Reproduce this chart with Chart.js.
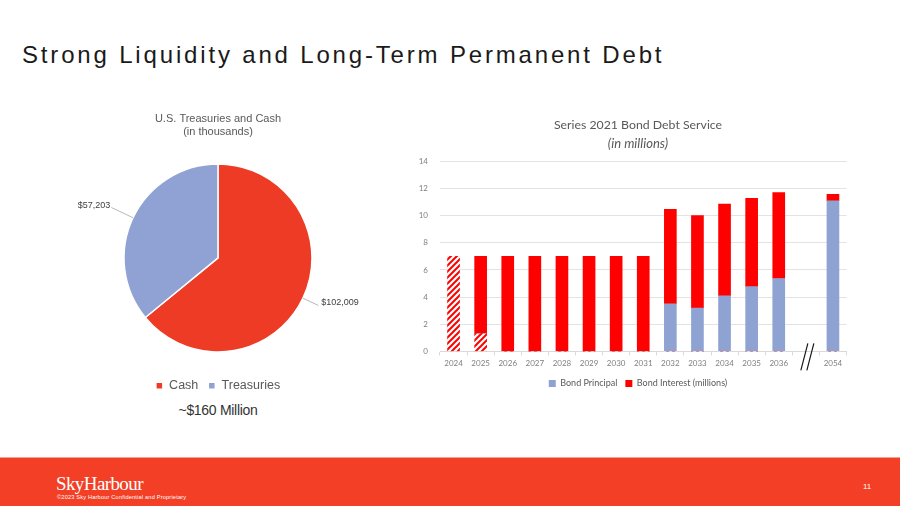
<!DOCTYPE html>
<html>
<head>
<meta charset="utf-8">
<script src="https://cdn.jsdelivr.net/npm/chart.js@4.4.1/dist/chart.umd.min.js"></script>
<style>
  html, body { margin:0; padding:0; background:#fff; }
  body { width:900px; height:506px; position:relative; overflow:hidden; font-family:"Liberation Sans", Arial, sans-serif; }
  #title { position:absolute; left:22px; top:41px; font-size:24px; letter-spacing:2.83px; color:#1a1a1a; white-space:nowrap; }
  #pieWrap { position:absolute; left:60px; top:100px; width:316px; height:302px; }
  #barWrap { position:absolute; left:405px; top:110px; width:466px; height:288px; }
  #total { position:absolute; left:60px; width:316px; top:402px; text-align:center; font-size:14px; color:#333; letter-spacing:-0.3px; }
  #footer { position:absolute; left:0; top:457px; width:900px; height:49px; background:#F33F26; border-top:1px solid #f8a08c; }
  #logo { position:absolute; left:56px; top:15px; font-family:"Liberation Serif", "DejaVu Serif", serif; font-size:19px; color:#fff; letter-spacing:-0.6px; }
  #copy { position:absolute; left:57px; top:36px; font-size:5.6px; color:#fff; white-space:nowrap; letter-spacing:0.2px; }
  #pg { position:absolute; left:863px; top:24px; font-size:8px; color:#fff; }
</style>
</head>
<body>
<div id="title">Strong Liquidity and Long-Term Permanent Debt</div>
<div id="pieWrap"><canvas id="pie"></canvas></div>
<div id="total">~$160 Million</div>
<div id="barWrap"><canvas id="bar"></canvas></div>
<div id="footer">
  <div id="logo">SkyHarbour</div>
  <div id="copy">©2023 Sky Harbour Confidential and Proprietary</div>
  <div id="pg">11</div>
</div>
<script>
// ---- Pie data ----
const pieLabels = ['Cash', 'Treasuries'];
const pieValues = [102009, 57203];
const pieColors = ['#EE3B25', '#8FA2D3'];

// ---- Bar data ----
const years = ['2024','2025','2026','2027','2028','2029','2030','2031','2032','2033','2034','2035','2036','','2054'];
const capitalizedInterest = [7.0, 1.3, 0, 0, 0, 0, 0, 0, 0, 0, 0, 0, 0, null, 0];
const bondPrincipal = [0, 0, 0, 0, 0, 0, 0, 0, 3.5, 3.2, 4.1, 4.77, 5.37, null, 11.1];
const bondInterest = [0, 5.7, 7.0, 7.0, 7.0, 7.0, 7.0, 7.0, 6.96, 6.8, 6.75, 6.5, 6.33, null, 0.48];
const yTicks = [0, 2, 4, 6, 8, 10, 12, 14];

// hatch pattern
function makeHatch() {
  const c = document.createElement('canvas');
  c.width = 6; c.height = 6;
  const g = c.getContext('2d');
  g.fillStyle = '#fff'; g.fillRect(0,0,6,6);
  g.strokeStyle = '#FF0000'; g.lineWidth = 2;
  g.beginPath();
  g.moveTo(-1, 7); g.lineTo(7, -1);
  g.moveTo(-4, 4); g.lineTo(4, -4);
  g.moveTo(2, 10); g.lineTo(10, 2);
  g.stroke();
  return g.createPattern(c, 'repeat');
}

const pieLabelPlugin = {
  id: 'pieLabels',
  afterDatasetsDraw(chart) {
    const ctx = chart.ctx;
    const meta = chart.getDatasetMeta(0);
    ctx.save();
    ctx.font = '9px "Liberation Sans", Arial, sans-serif';
    ctx.fillStyle = '#404040';
    ctx.strokeStyle = '#a6a6a6';
    ctx.lineWidth = 0.8;
    meta.data.forEach((arc, i) => {
      const p = arc.getProps(['x','y','startAngle','endAngle','outerRadius'], true);
      const mid = (p.startAngle + p.endAngle) / 2;
      const ex = p.x + Math.cos(mid) * p.outerRadius;
      const ey = p.y + Math.sin(mid) * p.outerRadius;
      const len = i === 0 ? 17 : 24;
      const ox = ex + Math.cos(mid) * len;
      const oy = ey + Math.sin(mid) * len;
      ctx.beginPath(); ctx.moveTo(ex, ey); ctx.lineTo(ox, oy); ctx.stroke();
      const txt = '$' + pieValues[i].toLocaleString('en-US');
      ctx.textBaseline = 'middle';
      if (Math.cos(mid) >= 0) { ctx.textAlign = 'left'; ctx.fillText(txt, ox + 3, oy - 3); }
      else { ctx.textAlign = 'right'; ctx.fillText(txt, ox - 1, oy - 2); }
    });
    ctx.restore();
  }
};

new Chart(document.getElementById('pie'), {
  type: 'pie',
  data: { labels: pieLabels, datasets: [{ data: pieValues, backgroundColor: pieColors, borderColor: '#fff', borderWidth: 1.5, radius: 94 }] },
  plugins: [pieLabelPlugin],
  options: {
    responsive: true, maintainAspectRatio: false, animation: false,
    layout: { padding: 0 },
    plugins: {
      title: { display: true, text: ['U.S. Treasuries and Cash', '(in thousands)'], color: '#595959',
               font: { family: '"Liberation Sans", Arial, sans-serif', size: 11, weight: 'normal', lineHeight: 1.2 },
               padding: { top: 12, bottom: 8 } },
      legend: { position: 'bottom', labels: { color: '#595959', boxWidth: 7, boxHeight: 7, padding: 10,
               font: { family: '"Liberation Sans", Arial, sans-serif', size: 12.5 } } },
      tooltip: { enabled: false }
    }
  }
});

const breakPlugin = {
  id: 'axisBreak',
  afterDraw(chart) {
    const ctx = chart.ctx;
    const xs = chart.scales.x;
    const cx = xs.getPixelForValue(13);
    const b = chart.chartArea.bottom;
    ctx.save();
    ctx.strokeStyle = '#1a1a1a'; ctx.lineWidth = 1.2;
    ctx.beginPath();
    ctx.moveTo(cx - 5, b + 19); ctx.lineTo(cx + 2, b - 8);
    ctx.moveTo(cx + 1, b + 19); ctx.lineTo(cx + 8, b - 8);
    ctx.stroke();
    ctx.restore();
  }
};

// center title/subtitle/legend over the whole canvas (as in the reference) rather than the padded area
const centerBoxesPlugin = {
  id: 'centerBoxes',
  afterLayout(chart) {
    const target = chart.width / 2;
    chart.boxes.forEach(b => {
      if (!b.axis && b.fullSize) {
        const cur = (b.left + b.right) / 2;
        const d = target - cur;
        b.left += d; b.right += d;
      }
    });
  }
};

const hatch = makeHatch();
new Chart(document.getElementById('bar'), {
  type: 'bar',
  data: {
    labels: years,
    datasets: [
      { label: 'Capitalized Interest', data: capitalizedInterest, backgroundColor: hatch, stack: 's' },
      { label: 'Bond Principal', data: bondPrincipal, backgroundColor: '#8FA3D3', stack: 's' },
      { label: 'Bond Interest (millions)', data: bondInterest, backgroundColor: '#FF0000', stack: 's' }
    ]
  },
  plugins: [breakPlugin, centerBoxesPlugin],
  options: {
    responsive: true, maintainAspectRatio: false, animation: false,
    layout: { padding: { right: 24.5, left: 0, top: 0, bottom: 0 } },
    datasets: { bar: { barThickness: 12 } },
    scales: {
      x: { stacked: true,
           grid: { display: true, drawOnChartArea: false, offset: true, color: '#d9d9d9', tickLength: 4 },
           border: { color: '#d9d9d9' },
           ticks: { color: '#7f7f7f', font: { family: 'Lato, sans-serif', size: 8 }, padding: 3, autoSkip: false, maxRotation: 0 } },
      y: { stacked: true, min: 0, max: 14,
           afterBuildTicks: s => { s.ticks = yTicks.map(v => ({ value: v })); },
           afterFit: s => { s.width = 35; },
           grid: { color: '#e3e3e3', drawTicks: false },
           border: { display: false },
           ticks: { color: '#7f7f7f', font: { family: 'Lato, sans-serif', size: 8 }, padding: 12 } }
    },
    plugins: {
      title: { display: true, text: 'Series 2021 Bond Debt Service', color: '#595959',
               font: { family: 'Lato, sans-serif', size: 12.3, weight: 'normal' }, padding: { top: 8, bottom: 3 } },
      subtitle: { display: true, text: '(in millions)', color: '#595959',
               font: { family: 'Lato, sans-serif', size: 13, style: 'italic' }, padding: { top: 0, bottom: 10 } },
      legend: { position: 'bottom',
               labels: { color: '#595959', boxWidth: 7, boxHeight: 7, padding: 8,
                         font: { family: 'Lato, sans-serif', size: 9 },
                         filter: item => item.text !== 'Capitalized Interest' } },
      tooltip: { enabled: false }
    }
  }
});
</script>
</body>
</html>
